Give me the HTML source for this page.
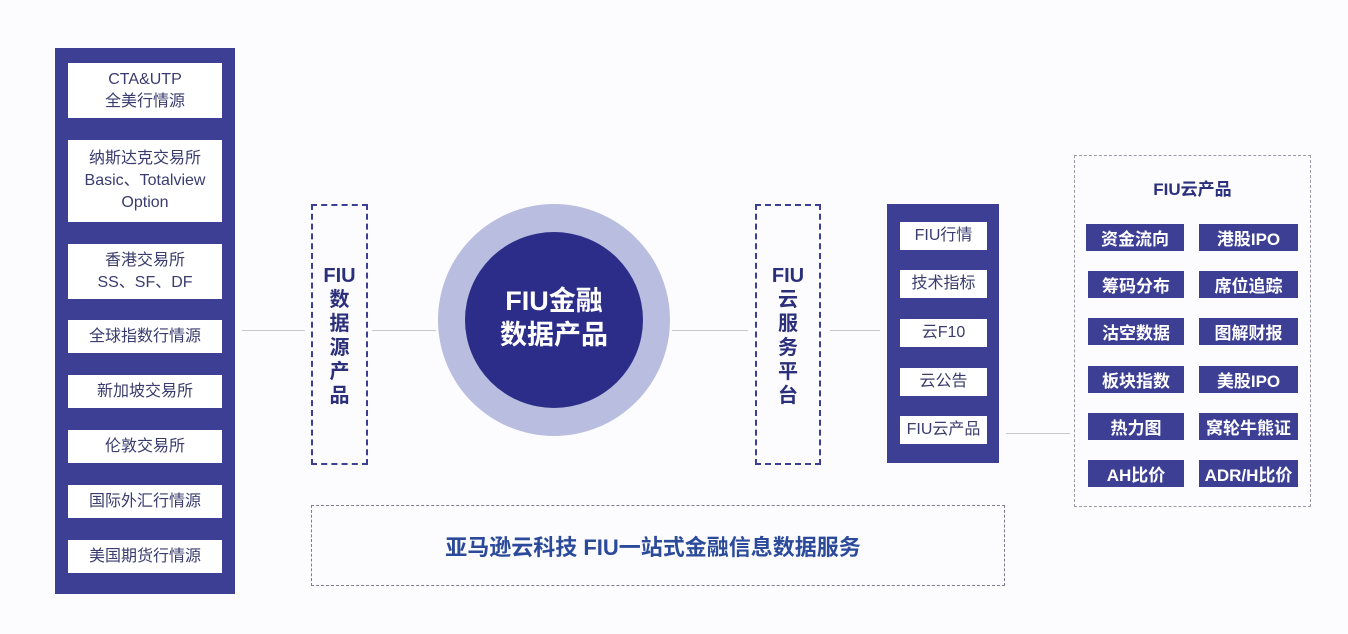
<!DOCTYPE html>
<html><head><meta charset="utf-8"><style>
body{margin:0;width:1348px;height:634px;background:#fcfcfe;position:relative;overflow:hidden;font-family:"Liberation Sans","Noto Sans CJK SC",sans-serif;}
.a{position:absolute;box-sizing:border-box;}
.navy{background:#3d3f95;}
.w{background:#fff;color:#3a3c6e;text-align:center;display:flex;align-items:center;justify-content:center;flex-direction:column;font-size:16px;line-height:22px;}
.t{background:#3d3f95;color:#fff;text-align:center;display:flex;align-items:center;justify-content:center;font-size:17px;font-weight:bold;}
.dash{border:2px dashed #3d3f95;}
.ln{position:absolute;height:1px;background:#c8c8cc;}
.vt{color:#2c2f7a;font-weight:bold;font-size:20px;text-align:center;line-height:24px;}
</style></head><body>
<div class="a navy" style="left:55px;top:48px;width:180px;height:546px"></div>
<div class="a w" style="left:68px;top:63px;width:154px;height:55px"><div>CTA&amp;UTP</div><div>全美行情源</div></div>
<div class="a w" style="left:68px;top:140px;width:154px;height:82px"><div>纳斯达克交易所</div><div>Basic、Totalview</div><div>Option</div></div>
<div class="a w" style="left:68px;top:244px;width:154px;height:55px"><div>香港交易所</div><div>SS、SF、DF</div></div>
<div class="a w" style="left:68px;top:320px;width:154px;height:33px">全球指数行情源</div>
<div class="a w" style="left:68px;top:375px;width:154px;height:33px">新加坡交易所</div>
<div class="a w" style="left:68px;top:430px;width:154px;height:33px">伦敦交易所</div>
<div class="a w" style="left:68px;top:485px;width:154px;height:33px">国际外汇行情源</div>
<div class="a w" style="left:68px;top:540px;width:154px;height:33px">美国期货行情源</div>

<div class="ln" style="left:242px;top:330px;width:63px"></div>
<div class="ln" style="left:372px;top:330px;width:64px"></div>
<div class="ln" style="left:672px;top:330px;width:76px"></div>
<div class="ln" style="left:830px;top:330px;width:50px"></div>
<div class="ln" style="left:1006px;top:433px;width:64px"></div>

<div class="a dash" style="left:311px;top:204px;width:57px;height:261px;padding-top:58px"><div class="vt">FIU<br>数<br>据<br>源<br>产<br>品</div></div>
<div class="a dash" style="left:755px;top:204px;width:66px;height:261px;padding-top:58px"><div class="vt">FIU<br>云<br>服<br>务<br>平<br>台</div></div>

<div class="a" style="left:438px;top:204px;width:232px;height:232px;border-radius:50%;background:#b9bddf"></div>
<div class="a" style="left:465px;top:232px;width:178px;height:176px;border-radius:50%;background:#2b2d88;color:#fff;font-weight:bold;font-size:27px;line-height:34px;text-align:center;padding-top:52px">FIU金融<br>数据产品</div>

<div class="a navy" style="left:887px;top:204px;width:112px;height:259px"></div>
<div class="a w" style="left:900px;top:222px;width:87px;height:28px">FIU行情</div>
<div class="a w" style="left:900px;top:270px;width:87px;height:28px">技术指标</div>
<div class="a w" style="left:900px;top:319px;width:87px;height:28px">云F10</div>
<div class="a w" style="left:900px;top:368px;width:87px;height:28px">云公告</div>
<div class="a w" style="left:900px;top:416px;width:87px;height:28px">FIU云产品</div>

<div class="a" style="left:1074px;top:155px;width:237px;height:352px;border:1px dashed #9a9aa8"></div>
<div class="a" style="left:1074px;top:175px;width:237px;text-align:center;color:#2c2f7a;font-weight:bold;font-size:17px">FIU云产品</div>
<div class="a t" style="left:1086px;top:224px;width:98px;height:27px">资金流向</div>
<div class="a t" style="left:1199px;top:224px;width:99px;height:27px">港股IPO</div>
<div class="a t" style="left:1088px;top:271px;width:96px;height:27px">筹码分布</div>
<div class="a t" style="left:1199px;top:271px;width:99px;height:27px">席位追踪</div>
<div class="a t" style="left:1088px;top:318px;width:96px;height:27px">沽空数据</div>
<div class="a t" style="left:1199px;top:318px;width:99px;height:27px">图解财报</div>
<div class="a t" style="left:1088px;top:366px;width:96px;height:27px">板块指数</div>
<div class="a t" style="left:1199px;top:366px;width:99px;height:27px">美股IPO</div>
<div class="a t" style="left:1088px;top:413px;width:96px;height:27px">热力图</div>
<div class="a t" style="left:1199px;top:413px;width:99px;height:27px">窝轮牛熊证</div>
<div class="a t" style="left:1088px;top:460px;width:96px;height:27px">AH比价</div>
<div class="a t" style="left:1199px;top:460px;width:99px;height:27px">ADR/H比价</div>

<div class="a" style="left:311px;top:505px;width:694px;height:81px;border:1px dashed #7c7c92;display:flex;align-items:center;justify-content:center;color:#2c4a9a;font-size:22px;font-weight:bold;padding-right:10px">亚马逊云科技 FIU一站式金融信息数据服务</div>
</body></html>
